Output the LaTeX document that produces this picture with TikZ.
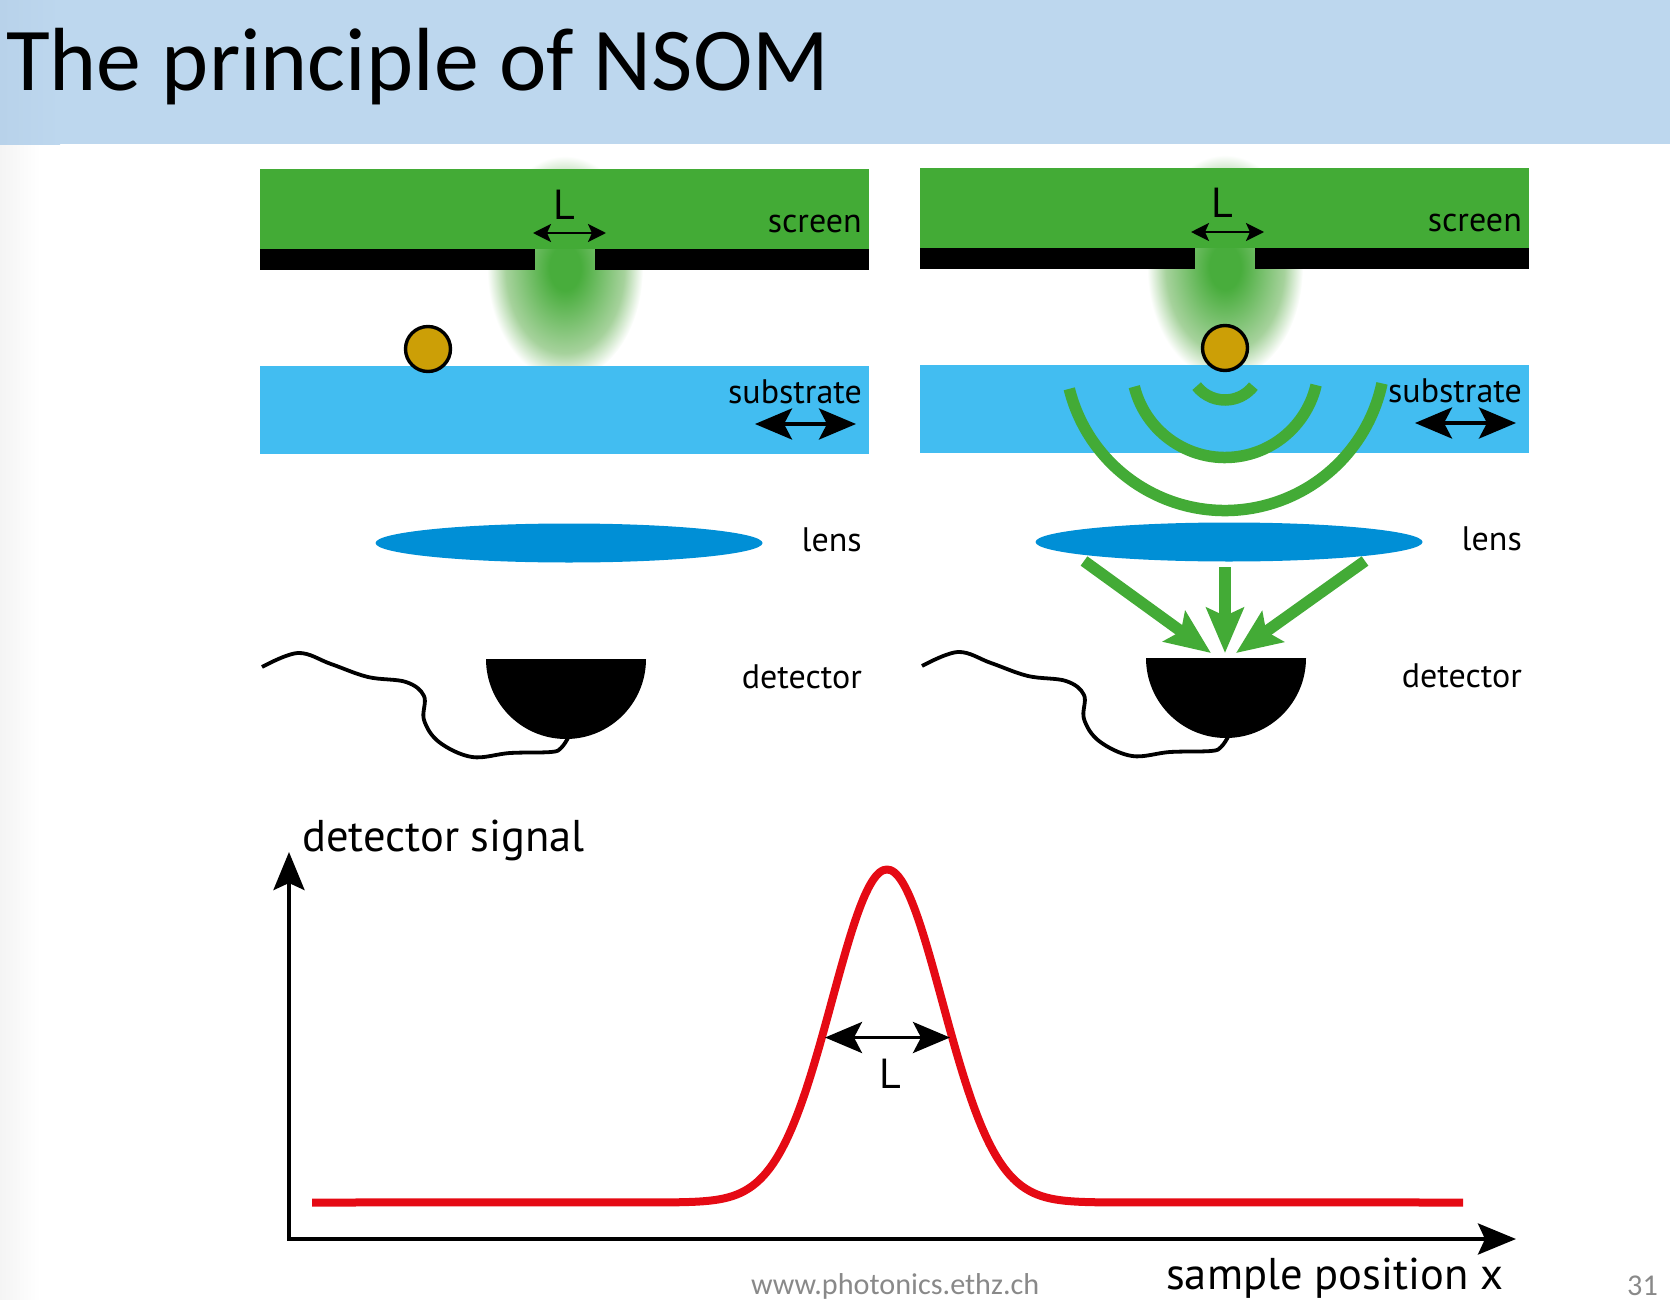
\documentclass[tikz,border=0pt]{standalone}
\usepackage{fontspec}
\setmainfont{Carlito}
\newfontfamily\figfont{PT Sans}
\usetikzlibrary{arrows.meta,calc,shapes.geometric}
\definecolor{bandblue}{HTML}{BDD7EE}
\definecolor{bandedge}{HTML}{B8D2EA}
\definecolor{pageedge}{HTML}{F4F4F4}
\definecolor{screengreen}{HTML}{43AB36}
\definecolor{glowgreen}{HTML}{48AD3C}
\definecolor{glowpale}{HTML}{A6D29C}
\definecolor{subblue}{HTML}{42BDF1}
\definecolor{lensblue}{HTML}{008FD6}
\definecolor{goldball}{HTML}{CC9F06}
\definecolor{curvered}{HTML}{E50A14}
\definecolor{footgrey}{HTML}{898989}
\pgfdeclareradialshading{glow}{\pgfpoint{0bp}{0bp}}{color(0bp)=(glowgreen);color(5bp)=(glowgreen);color(19bp)=(glowpale);color(25bp)=(white);color(50bp)=(white)}

\begin{document}
\begin{tikzpicture}[x=1pt,y=1pt,
  figlabel/.style={inner sep=0pt,anchor=base east,font=\figfont\fontsize{34}{38}\selectfont},
  axistext/.style={inner sep=0pt,anchor=base west,font=\figfont\fontsize{44.5}{48}\selectfont},
  gaptext/.style={inner sep=0pt,anchor=base,font=\figfont\fontsize{42}{46}\selectfont},
  ball/.style={circle,draw=black,line width=3.4pt,fill=goldball,inner sep=0pt,minimum size=45pt},
  lensshape/.style={ellipse,fill=lensblue,inner sep=0pt,minimum width=387pt,minimum height=39pt},
  gapline/.style={<->,>={Stealth[length=18pt,width=18pt,inset=4pt]},line width=2.5pt},
  stagearrow/.style={<->,>={Stealth[length=37pt,width=31pt,inset=8pt]},line width=3.6pt},
  axisline/.style={->,>={Stealth[length=38pt,width=31pt,inset=7pt]},line width=4pt},
  wavefront/.style={screengreen,line width=11.5pt},
  lightray/.style={->,>={Stealth[length=45pt,width=37pt,inset=8pt]},screengreen,line width=11.5pt},
  wire/.style={line width=3.8pt,line join=round}]

\useasboundingbox (0,-1300) rectangle (1670,0);

% slide title
\shade[left color=pageedge,right color=white] (0,-146) rectangle (40,-1300);
\fill[bandblue] (0,0) rectangle (1670,-144.5);
\shade[left color=bandedge,right color=bandblue] (0,0) rectangle (60,-144.5);
\node[inner sep=0pt,anchor=base west,font=\fontsize{89.7}{96}\selectfont] (title) at (6,-91) {The principle of NSOM};

% left and right stage
\foreach \p/\dx/\dy/\gx in {L/0/0/0,R/660/1/-2}{
\begin{scope}[xshift=\dx pt,yshift=\dy pt]
  \shade[shading=glow] (565,-268) ellipse (78 and 112);
  \fill[screengreen] (260,-169) rectangle (869,-249);
  \fill[black] (260,-249) rectangle (535,-270);
  \fill[black] (595,-249) rectangle (869,-270);
  \fill[subblue] (260,-366) rectangle (869,-454);

  \node[lensshape] (lens\p) at (569,-543) {};
  \fill[black] (486,-659) arc (180:360:80) -- cycle;
  \draw[wire] plot[smooth,tension=0.6] coordinates {(262,-667) (298,-653) (331,-664) (368,-677) (406,-682) (424,-696) (424,-720) (439,-742) (472,-757) (510,-753) (551,-752) (561,-748) (568,-738)};

  \node[figlabel] (screen\p) at (862,-233) {screen};
  \node[figlabel] (substrate\p) at (862,-403) {substrate};
  \node[figlabel] (lenstext\p) at (862,-551) {lens};
  \node[figlabel] (detector\p) at (862,-688) {detector};

  \node[gaptext] (gaptext\p) at (564+\gx,-219) {L};
  \coordinate (gapA\p) at (533+\gx,-233);
  \coordinate (gapB\p) at (606+\gx,-233);
  \draw[gapline] (gapA\p) -- (gapB\p);

  \coordinate (stageA\p) at (755,-424);
  \coordinate (stageB\p) at (856,-424);
  \draw[stagearrow] (stageA\p) -- (stageB\p);
\end{scope}
}

\node[ball] (ballL) at (428,-349) {};
\node[ball] (ballR) at (1225,-348) {};

% scattered waves
\coordinate (waveC) at (1225,-364);
\coordinate (waveO) at (1225,-350);
\draw[wavefront] ($(waveC)+(218:36)$) arc (218:322:36);
\draw[wavefront] ($(waveC)+(194:93.5)$) arc (194:347:93.5);
\draw[wavefront] ($(waveO)+(194:160.5)$) arc (194:348:160.5);

% rays to the detector
\coordinate (rayA) at (1084,-561);
\coordinate (rayB) at (1225,-567);
\coordinate (rayC) at (1365,-561);
\coordinate (rayTipA) at (1211,-653);
\coordinate (rayTipB) at (1225,-653);
\coordinate (rayTipC) at (1236,-653);
\draw[lightray] (rayA) -- (rayTipA);
\draw[lightray] (rayB) -- (rayTipB);
\draw[lightray] (rayC) -- (rayTipC);

% signal plot
\coordinate (origin) at (289,-1239);
\coordinate (yend) at (289,-852);
\coordinate (xend) at (1516,-1239);
\draw[axisline,line cap=rect] (origin) -- (yend);
\draw[axisline,line cap=rect] (origin) -- (xend);

\coordinate (curveA) at (312,-1202.5);
\coordinate (curveB) at (1463,-1202.5);
\draw[curvered,line width=8pt,line join=round] (curveA) -- plot[domain=-4:4,samples=121,smooth] ({887+55*\x},{-1202.5+333*exp(-0.5*\x*\x)}) -- (curveB);

\coordinate (fwhmA) at (825,-1037.5);
\coordinate (fwhmB) at (950,-1037.5);
\draw[stagearrow] (fwhmA) -- (fwhmB);
\node[gaptext] (fwhmtext) at (890,-1088) {L};

\node[axistext] (ylabel) at (302,-851) {detector signal};
\node[axistext] (xlabel) at (1166,-1289) {sample position x};

% footer
\node[inner sep=0pt,anchor=base west,text=footgrey,font=\fontsize{30.2}{34}\selectfont] (website) at (751,-1294) {www.photonics.ethz.ch};
\node[inner sep=0pt,anchor=base east,text=footgrey,font=\fontsize{30.2}{34}\selectfont] (pagenum) at (1658,-1295) {31};

\end{tikzpicture}
\end{document}
